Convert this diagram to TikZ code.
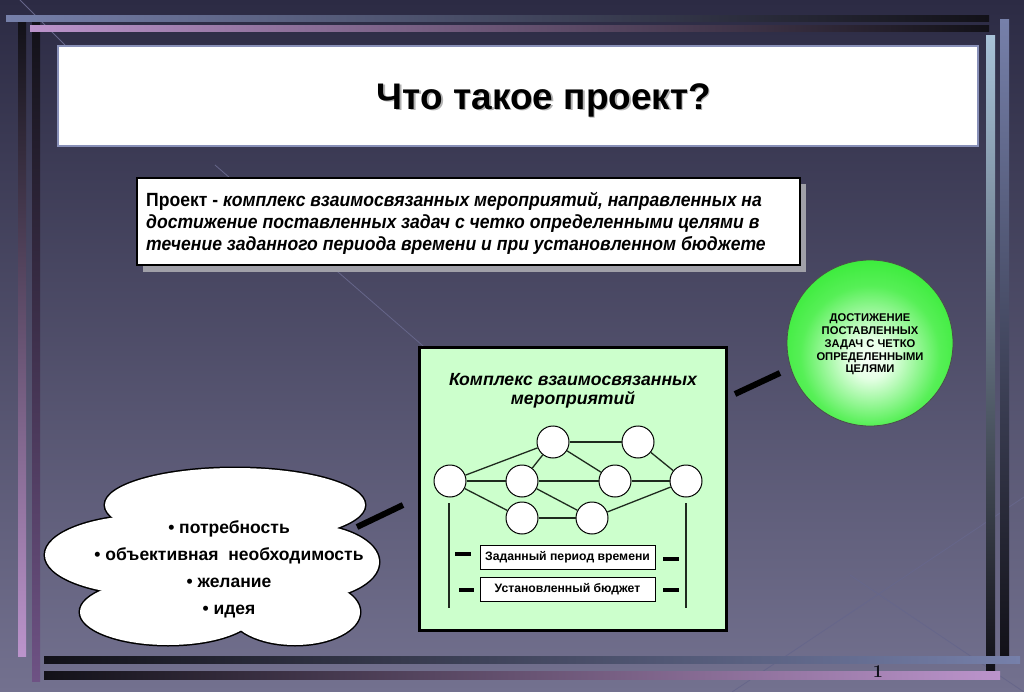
\documentclass[tikz,border=0pt]{standalone}
\usepackage{fontspec}
\setmainfont{Liberation Sans}
\newfontfamily\deffont[FakeStretch=0.92]{Liberation Sans}
\newfontfamily\lmserif{Latin Modern Roman}
\definecolor{bgtop}{HTML}{2C2B44}
\definecolor{bgmid}{HTML}{45445F}
\definecolor{bgbot}{HTML}{73718F}
\definecolor{bgline}{HTML}{66668A}
\definecolor{barblue}{HTML}{7680AA}
\definecolor{barlilac}{HTML}{BC94CC}
\definecolor{barpurple}{HTML}{6E5284}
\definecolor{barlight}{HTML}{A8C2D8}
\definecolor{bardark}{HTML}{121118}
\definecolor{titleedge}{HTML}{8890B8}
\definecolor{shadowgrey}{HTML}{A0A0A8}
\definecolor{boxgreen}{HTML}{CCFFCC}
\definecolor{edgecol}{HTML}{1E2A1E}
\definecolor{pagecol}{HTML}{10101A}
\pgfdeclareradialshading{gball}{\pgfpoint{0bp}{-5bp}}{rgb(0bp)=(0.97,1,0.97); rgb(6bp)=(0.9,1,0.9); rgb(21bp)=(0.34,0.94,0.34); rgb(31bp)=(0.2,0.92,0.2); rgb(80bp)=(0.2,0.92,0.2)}
\begin{document}
\begin{tikzpicture}[x=1pt,y=-1pt,
  conn/.style={line width=6pt,black},
  dashbar/.style={line width=4pt,black},
  gnode/.style={circle,draw=black,line width=1pt,fill=white,minimum size=32pt,inner sep=0pt},
  gedge/.style={line width=1.3pt,draw=edgecol},
  smallbox/.style={draw=black,line width=0.8pt,fill=white,minimum width=175pt,minimum height=24pt,inner sep=0pt,font=\fontsize{12.2}{14}\selectfont\bfseries},
  lobe/.style={line width=3pt,draw=black}
]
\useasboundingbox (0,0) rectangle (1024,692);
% background
\shade[top color=bgtop, middle color=bgmid, bottom color=bgbot] (0,0) rectangle (1024,692);
\draw[bgline,line width=0.8pt] (20,0) -- (65,45);
\draw[bgline,line width=0.8pt] (215,165) -- (430,352);
\draw[bgline,line width=0.8pt] (732,692) -- (1024,497);
\draw[bgline,line width=0.8pt] (850,575) -- (1024,692);
% left bars
\shade[top color=bardark, bottom color=barlilac] (18,22) rectangle (26,656);
\shade[top color=bardark, bottom color=barpurple] (32,22) rectangle (40,681);
% top bars
\shade[left color=barblue, right color=bardark] (6,16) rectangle (989,22);
\shade[left color=barlilac, right color=bardark] (30,26) rectangle (989,32);
% right bars
\shade[top color=barlight, bottom color=bardark] (986,36) rectangle (995,670);
\shade[top color=barblue, bottom color=bardark] (1000,20) rectangle (1009,655);
% bottom bars
\shade[left color=bardark, right color=barblue] (44,656) rectangle (1020,663);
\shade[left color=bardark, right color=barlilac] (44,671) rectangle (1000,679);
% title
\node[draw=titleedge,line width=2pt,fill=white,minimum width=920pt,minimum height=100pt,inner sep=0pt] (titlebox) at (517.5,96.5) {};
\node[text=black!30,font=\fontsize{37}{40}\selectfont\bfseries] (titleshadow) at (545.5,101.5) {Что такое проект?};
\node[text=black,font=\fontsize{37}{40}\selectfont\bfseries] (title) at (544,100) {Что такое проект?};
% definition box
\fill[shadowgrey] (143,184) rectangle (806,272);
\node[draw=black,line width=2pt,fill=white,minimum width=663pt,minimum height=87pt,inner sep=0pt] (defbox) at (468.5,221.5) {};
\node[anchor=north west,inner sep=0pt,align=left,font=\deffont\fontsize{19.1}{22}\selectfont\bfseries] (deftext) at (146,192)
{Проект - \itshape комплекс взаимосвязанных мероприятий, направленных на\\
\itshape достижение поставленных задач с четко определенными целями в\\
\itshape течение заданного периода времени и при установленном бюджете};
% goal circle
\node[circle,draw=black!70,line width=0.8pt,shading=gball,minimum size=166pt,inner sep=0pt] (goal) at (870,343) {};
\node[align=center,font=\fontsize{11.2}{12.8}\selectfont\bfseries,inner sep=0pt] (goaltext) at (870,344.5)
{ДОСТИЖЕНИЕ\\ПОСТАВЛЕННЫХ\\ЗАДАЧ С ЧЕТКО\\ОПРЕДЕЛЕННЫМИ\\ЦЕЛЯМИ};
% complex box
\node[draw=black,line width=3pt,fill=boxgreen,minimum width=307pt,minimum height=283pt,inner sep=0pt] (cbox) at (572.5,488.5) {};
\node[align=center,font=\fontsize{17.6}{19.5}\selectfont\bfseries\itshape,inner sep=0pt] (ctitle) at (573,391)
{Комплекс взаимосвязанных\\мероприятий};
% graph
\node[gnode] (a) at (450,481) {};
\node[gnode] (b) at (522,481) {};
\node[gnode] (c) at (553,442) {};
\node[gnode] (d) at (638,442) {};
\node[gnode] (e) at (615,481) {};
\node[gnode] (f) at (686,481) {};
\node[gnode] (g) at (522,518) {};
\node[gnode] (h) at (592,518) {};
\foreach \u/\v in {a/c,a/b,a/g,c/b,c/d,c/e,b/e,b/h,g/h,h/f,e/f,d/f}
  \draw[gedge] (\u) -- (\v);
\coordinate (la1) at (449,503); \coordinate (la2) at (449,608);
\coordinate (lf1) at (686,503); \coordinate (lf2) at (686,608);
\draw[gedge] (la1) -- (la2);
\draw[gedge] (lf1) -- (lf2);
\node[smallbox] (period) at (567.5,557) {Заданный период времени};
\node[smallbox] (budget) at (567.5,589) {Установленный бюджет};
\coordinate (d1a) at (455,554); \coordinate (d1b) at (471,554);
\coordinate (d2a) at (459,590); \coordinate (d2b) at (474,590);
\coordinate (d3a) at (663,559); \coordinate (d3b) at (679,559);
\coordinate (d4a) at (663,590); \coordinate (d4b) at (679,590);
\draw[dashbar] (d1a) -- (d1b);
\draw[dashbar] (d2a) -- (d2b);
\draw[dashbar] (d3a) -- (d3b);
\draw[dashbar] (d4a) -- (d4b);
% cloud
\foreach \cx/\cy/\rx/\ry in {235/505/130/37, 150/555/105/40, 302/562/77/38, 168/612/88/33, 295/612/65/33}
  \draw[lobe] (\cx,\cy) ellipse [x radius=\rx, y radius=\ry];
\foreach \cx/\cy/\rx/\ry in {235/505/130/37, 150/555/105/40, 302/562/77/38, 168/612/88/33, 295/612/65/33, 222/560/135/52}
  \fill[white] (\cx,\cy) ellipse [x radius=\rx, y radius=\ry];
\node[align=center,font=\fontsize{17.5}{27}\selectfont\bfseries,inner sep=0pt] (cloudtext) at (229,569)
{• потребность\\• объективная\ \ необходимость\\• желание\\• идея};
% connectors
\coordinate (k1) at (357,527); \coordinate (k2) at (403,505);
\coordinate (k3) at (735,394); \coordinate (k4) at (780,373);
\draw[conn] (k1) -- (k2);
\draw[conn] (k3) -- (k4);
% page number
\node[text=pagecol,font=\lmserif\fontsize{18}{18}\selectfont\bfseries,inner sep=0pt] (pagenum) at (878,672) {1};
\end{tikzpicture}
\end{document}
